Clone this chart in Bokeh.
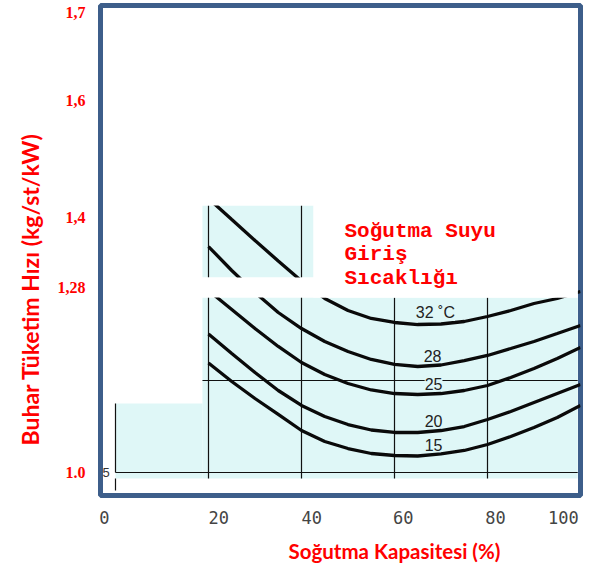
from bokeh.plotting import figure
from bokeh.models import Range1d, FixedTicker, Title, LabelSet, ColumnDataSource
from bokeh.core.properties import value
from bokeh.embed import file_html
from bokeh.resources import INLINE

# ---- data ----
capacity = [20, 25, 30, 35, 40, 45, 50, 55, 60, 65, 70, 75, 80, 85, 90, 95, 100]
curve_15 = [1.1666, 1.1385, 1.1126, 1.0883, 1.0639, 1.0472, 1.0365, 1.0289, 1.0259,
            1.0251, 1.0282, 1.0335, 1.0426, 1.0548, 1.0685, 1.0837, 1.1020]
curve_20 = [1.2108, 1.1811, 1.1522, 1.1248, 1.1020, 1.0852, 1.0730, 1.0647, 1.0609,
            1.0609, 1.0639, 1.0700, 1.0807, 1.0928, 1.1065, 1.1202, 1.1339]
curve_25 = [1.2770, 1.2481, 1.2191, 1.1918, 1.1674, 1.1491, 1.1354, 1.1256, 1.1202,
            1.1187, 1.1202, 1.1248, 1.1324, 1.1446, 1.1583, 1.1735, 1.1902]
curve_28 = [1.3439, 1.3074, 1.2739, 1.2435, 1.2191, 1.1994, 1.1841, 1.1720, 1.1644,
            1.1613, 1.1636, 1.1704, 1.1781, 1.1887, 1.1994, 1.2115, 1.2237]
curve_32 = [1.4170, 1.3850, 1.3531, 1.3219, 1.2914, 1.2648, 1.2465, 1.2344, 1.2283,
            1.2252, 1.2260, 1.2298, 1.2374, 1.2465, 1.2572, 1.2648, 1.2755]
curves = [curve_32, curve_28, curve_25, curve_20, curve_15]
curve_labels = ["32 ˚C", "28", "25", "20", "15"]
label_x = [68.8, 68.2, 68.4, 68.4, 68.4]
label_y = [1.2435, 1.178, 1.1354, 1.0791, 1.0426]

note_lines = ["Soğutma Suyu", "Giriş", "Sıcaklığı"]

x_tick_labels = ["0", "20", "40", "60", "80", "100"]
x_tick_pos = [-2.4, 22.2, 42.2, 61.9, 81.7, 96.3]
y_tick_labels = ["1.0", "1,28", "1,4", "1,6", "1,7"]
y_tick_pos = [1.0, 1.2815, 1.388, 1.566, 1.7]

CYAN = "#dff7f7"
RED = "#ff0000"

p = figure(width=590, height=573, output_backend="svg", toolbar_location=None,
           x_range=Range1d(-3.2258, 100.0), y_range=Range1d(0.9650, 1.7107),
           min_border_left=100, min_border_right=10, min_border_top=5, min_border_bottom=78)
p.grid.visible = False
p.background_fill_color = "white"
p.border_fill_color = "white"
p.outline_line_color = "#3d5e8a"
p.outline_line_width = 5

# light cyan chart panels
p.quad(left=[0, 18.7, 18.7], right=[18.7, 99.4, 42.58],
       bottom=[0.9909, 0.9909, 1.2968], top=[1.1050, 1.2663, 1.4063],
       fill_color=CYAN, line_color=None)

# grid lines of the inner chart
p.segment(x0=[0, 0, 20, 20, 40, 40, 60, 80, 18.7, 0],
          y0=[1.1050, 0.9909, 1.4063, 1.2663, 1.4063, 1.2663, 1.2663, 1.2663, 1.14, 1.0],
          x1=[0, 0, 20, 20, 40, 40, 60, 80, 99.4, 99.4],
          y1=[1.0, 0.9726, 1.2968, 0.9909, 1.2968, 0.9909, 0.9909, 0.9909, 1.14, 1.0],
          line_color="#111111", line_width=1.2)

for c in curves:
    p.line(capacity, c, line_color="#0a0a0a", line_width=3.3)

# white masks (cut-out areas of the scanned chart), kept inside the blue frame
p.quad(left=[-2.55, 42.58, -2.55], right=[99.4, 99.4, 99.4],
       bottom=[1.4063, 1.2663, 1.2663], top=[1.705, 1.4063, 1.2968],
       fill_color="white", line_color=None)

src = ColumnDataSource(dict(x=label_x, y=label_y, t=curve_labels))
p.add_layout(LabelSet(x="x", y="y", text="t", source=src, text_align="center",
                      text_baseline="middle", text_font=value("Liberation Sans"),
                      text_font_size="16px", text_color="#222222",
                      background_fill_color=CYAN))

p.text(x=[49.25, 49.25, 49.25], y=[1.3668, 1.3318, 1.2953], text=note_lines,
       text_font=value("Liberation Mono"), text_font_style="bold", text_font_size="21px",
       text_color=RED, text_align="left", text_baseline="middle")

p.text(x=[-2.0], y=[1.0], text=["5"], text_font=value("Liberation Sans"),
       text_font_size="13px", text_color="#333333", text_align="center",
       text_baseline="middle")

# axes
p.xaxis.ticker = FixedTicker(ticks=x_tick_pos)
p.xaxis.major_label_overrides = dict(zip(x_tick_pos, x_tick_labels))
p.xaxis.major_label_text_font = "DejaVu Sans Mono"
p.xaxis.major_label_text_font_size = "17px"
p.xaxis.major_label_text_color = "#444444"
p.xaxis.major_label_standoff = 15
p.xaxis.axis_line_color = None
p.xaxis.major_tick_line_color = None
p.xaxis.minor_tick_line_color = None
p.xaxis.major_tick_out = 0
p.xaxis.major_tick_in = 0

p.yaxis.ticker = FixedTicker(ticks=y_tick_pos)
p.yaxis.major_label_overrides = dict(zip(y_tick_pos, y_tick_labels))
p.yaxis.major_label_text_font = "Liberation Serif"
p.yaxis.major_label_text_font_style = "bold"
p.yaxis.major_label_text_font_size = "16px"
p.yaxis.major_label_text_color = RED
p.yaxis.major_label_standoff = 15
p.yaxis.axis_line_color = None
p.yaxis.major_tick_line_color = None
p.yaxis.minor_tick_line_color = None
p.yaxis.major_tick_out = 0
p.yaxis.major_tick_in = 0

p.add_layout(Title(text="Buhar Tüketim Hızı (kg/st/kW)", align="left", offset=50,
                   text_font="Lato", text_font_size="23px", text_font_style="bold",
                   text_color=RED, standoff=22), "left")
p.add_layout(Title(text="Soğutma Kapasitesi (%)", align="left", offset=188,
                   text_font="Lato", text_font_size="20.5px", text_font_style="bold",
                   text_color=RED, standoff=21), "below")

open("out.html", "w").write(file_html(p, INLINE))
